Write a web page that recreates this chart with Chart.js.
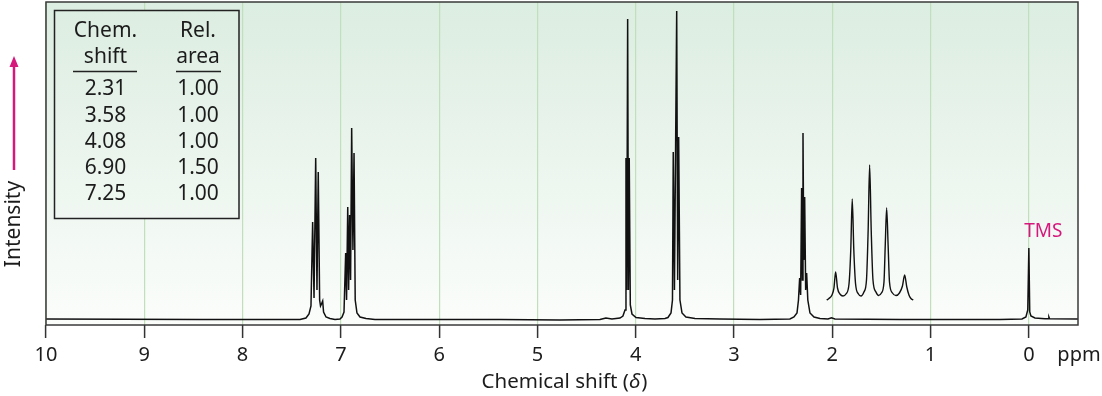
<!DOCTYPE html>
<html lang="en">
  <head>
    <meta charset="UTF-8" />
    <title>NMR spectrum</title>
    <script src="https://cdn.jsdelivr.net/npm/chart.js"></script>
    <style>
      body { margin: 0; background: #ffffff; }
      .chart-box { position: relative; width: 1102px; height: 396px; }
    </style>
  </head>
  <body>
    <div class="chart-box"><canvas id="nmrChart"></canvas></div>

    <script>
      // Axis ticks (ppm)
      var tickValues = [0, 1, 2, 3, 4, 5, 6, 7, 8, 9, 10];

      // Full spectrum (ppm / intensity)
      var spectrumPpm = [
        10.0, 8.433, 7.416, 7.355, 7.324, 7.304, 7.287, 7.273, 7.256, 7.243,
        7.23, 7.216, 7.207, 7.197, 7.185, 7.176, 7.151, 7.111, 7.06, 7.009,
        6.988, 6.968, 6.951, 6.942, 6.93, 6.921, 6.911, 6.901, 6.89, 6.877,
        6.866, 6.854, 6.836, 6.805, 6.744, 6.653, 6.398, 5.381, 4.771, 4.364,
        4.303, 4.242, 4.16, 4.13, 4.109, 4.099, 4.091, 4.082, 4.074, 4.066,
        4.055, 4.038, 3.997, 3.906, 3.804, 3.702, 3.672, 3.641, 3.626, 3.618,
        3.606, 3.583, 3.573, 3.563, 3.55, 3.529, 3.489, 3.397, 3.143, 2.736,
        2.431, 2.39, 2.359, 2.344, 2.332, 2.322, 2.312, 2.304, 2.298, 2.29,
        2.281, 2.271, 2.261, 2.249, 2.227, 2.186, 2.125, 2.044, 2.008, 1.973,
        1.311, 0.294, 0.07, 0.03, 0.011, 0.0, -0.009, -0.021, -0.062, -0.164,
        -0.199, -0.204, -0.211, -0.5
      ];
      var spectrumIntensity = [
        0, -0.5, -0.5, 1, 5, 13, 97, 21, 161, 29,
        147, 19, 13, 15, 18, 7, 2, 0.5, -0.5, 0,
        2, 7, 66, 19, 112, 29, 104, 39, 191, 69,
        166, 19, 6, 2, 0.5, -0.5, -0.5, -0.5, -1, -0.5,
        1, 0, 1, 3, 9, 161, 29, 300, 29, 161,
        14, 5, 1.5, 0.5, 0, 0.5, 1.5, 6, 19, 167,
        29, 308, 39, 182, 19, 6, 2, 0.5, 0, -0.5,
        0, 2, 6, 19, 41, 24, 131, 39, 186, 59,
        122, 29, 46, 19, 6, 2, 0.5, 0, 1.2, 0,
        -0.5, -0.5, 0, 2, 9, 71, 7, 3, 1, 0.3,
        0.2, 2, 0.2, 0
      ];

      // Expanded 1.2-2.0 ppm multiplet, drawn above the baseline
      var expansionPpm = [
        2.057, 2.034, 2.003, 1.983, 1.966, 1.947, 1.922, 1.891, 1.861, 1.83,
        1.812, 1.797, 1.781, 1.763, 1.734, 1.708, 1.678, 1.652, 1.635, 1.62,
        1.604, 1.586, 1.556, 1.53, 1.5, 1.474, 1.461, 1.447, 1.432, 1.418,
        1.388, 1.352, 1.317, 1.286, 1.264, 1.242, 1.22, 1.2, 1.176
      ];
      var expansionIntensity = [
        19, 20.5, 24, 31, 47, 31, 25, 23, 25, 35,
        69, 120, 69, 35, 25, 23, 27, 39, 89, 154,
        89, 39, 27, 23.5, 26, 37, 74, 111, 74, 37,
        26, 23.5, 26, 33, 44, 32, 24, 20.5, 19
      ];

      // Inset table
      var tableShifts = ["2.31", "3.58", "4.08", "6.90", "7.25"];
      var tableAreas = ["1.00", "1.00", "1.00", "1.50", "1.00"];

      var FONT = '"Noto Sans", sans-serif';
      var PINK = "#d6187d";
      var INK = "#1c1c1c";

      function toPoints(xs, ys) {
        return xs.map(function (x, i) {
          return { x: x, y: ys[i] };
        });
      }

      function makeGradient(ctx, area) {
        var g = ctx.createLinearGradient(0, area.top, 0, area.bottom);
        g.addColorStop(0, "#dcede1");
        g.addColorStop(1, "#fbfdfb");
        return g;
      }

      // green-tinted plot background
      var backgroundPlugin = {
        id: "plotBackground",
        beforeDraw: function (chart) {
          var ctx = chart.ctx;
          var a = chart.chartArea;
          ctx.save();
          ctx.fillStyle = makeGradient(ctx, a);
          ctx.fillRect(a.left, a.top, a.right - a.left, a.bottom - a.top);
          ctx.restore();
        },
      };

      // frame, labels, arrow and the inset table
      var overlayPlugin = {
        id: "overlay",
        afterDraw: function (chart) {
          var ctx = chart.ctx;
          var a = chart.chartArea;
          var xs = chart.scales.x;
          ctx.save();

          ctx.strokeStyle = "#3a3a3a";
          ctx.lineWidth = 1.5;
          ctx.strokeRect(a.left, a.top, a.right - a.left, a.bottom - a.top);

          // table
          var tx = 54.5, ty = 10.5, tw = 184.5, th = 208;
          ctx.fillStyle = makeGradient(ctx, a);
          ctx.fillRect(tx, ty, tw, th);
          ctx.strokeStyle = "#222";
          ctx.lineWidth = 1.5;
          ctx.strokeRect(tx, ty, tw, th);

          ctx.fillStyle = INK;
          ctx.font = "21px " + FONT;
          ctx.textAlign = "center";
          ctx.textBaseline = "middle";
          var c1 = 105.5, c2 = 198;
          ctx.fillText("Chem.", c1, 31);
          ctx.fillText("shift", c1, 57);
          ctx.fillText("Rel.", c2, 31);
          ctx.fillText("area", c2, 57);
          ctx.lineWidth = 1.5;
          ctx.beginPath();
          ctx.moveTo(73, 71.5);
          ctx.lineTo(137, 71.5);
          ctx.moveTo(176, 71.5);
          ctx.lineTo(221, 71.5);
          ctx.stroke();
          for (var i = 0; i < tableShifts.length; i++) {
            var ry = 89.5 + i * 26.2;
            ctx.fillText(tableShifts[i], c1, ry);
            ctx.fillText(tableAreas[i], c2, ry);
          }

          // ppm unit
          ctx.font = "20px " + FONT;
          ctx.fillText("ppm", 1079, 355);

          // x title with italic delta
          var t1 = "Chemical shift (";
          var t2 = "\u03B4";
          var t3 = ")";
          var fontUp = "20.5px " + FONT;
          var fontIt = "italic 20.5px " + FONT;
          ctx.font = fontUp;
          var w1 = ctx.measureText(t1).width;
          var w3 = ctx.measureText(t3).width;
          ctx.font = fontIt;
          var w2 = ctx.measureText(t2).width;
          var x0 = 564 - (w1 + w2 + w3) / 2;
          ctx.textAlign = "left";
          ctx.font = fontUp;
          ctx.fillText(t1, x0, 382);
          ctx.font = fontIt;
          ctx.fillText(t2, x0 + w1, 382);
          ctx.font = fontUp;
          ctx.fillText(t3, x0 + w1 + w2 + 1, 382);

          // y title and arrow
          ctx.save();
          ctx.translate(14, 224);
          ctx.rotate(-Math.PI / 2);
          ctx.textAlign = "center";
          ctx.font = "21px " + FONT;
          ctx.fillText("Intensity", 0, 0);
          ctx.restore();

          ctx.strokeStyle = PINK;
          ctx.fillStyle = PINK;
          ctx.lineWidth = 2.5;
          ctx.beginPath();
          ctx.moveTo(14, 170);
          ctx.lineTo(14, 64);
          ctx.stroke();
          ctx.beginPath();
          ctx.moveTo(14, 56);
          ctx.lineTo(9.5, 67);
          ctx.lineTo(18.5, 67);
          ctx.closePath();
          ctx.fill();

          // TMS reference label
          ctx.textAlign = "center";
          ctx.font = "19px " + FONT;
          ctx.fillText("TMS", xs.getPixelForValue(0) + 14.5, 232);

          ctx.restore();
        },
      };

      // Spectrum Chart
      var nmrCtx = document.getElementById("nmrChart").getContext("2d");
      var nmrChart = new Chart(nmrCtx, {
        type: "line",
        data: {
          datasets: [
            {
              label: "Spectrum",
              data: toPoints(spectrumPpm, spectrumIntensity),
              borderColor: "#111111",
              borderWidth: 1.5,
              pointRadius: 0,
              tension: 0,
            },
            {
              label: "Expansion",
              data: toPoints(expansionPpm, expansionIntensity),
              borderColor: "#111111",
              borderWidth: 1.4,
              pointRadius: 0,
              cubicInterpolationMode: "monotone",
            },
          ],
        },
        options: {
          responsive: true,
          maintainAspectRatio: false,
          animation: false,
          events: [],
          layout: { padding: { left: 46, right: 24, top: 2, bottom: 0 } },
          plugins: {
            legend: { display: false },
            tooltip: { enabled: false },
          },
          scales: {
            x: {
              type: "linear",
              reverse: true,
              min: -0.5,
              max: 10,
              afterBuildTicks: function (scale) {
                scale.ticks = tickValues.map(function (v) {
                  return { value: v };
                });
              },
              afterFit: function (scale) {
                scale.height = 71;
              },
              border: { display: false },
              grid: {
                color: "#c0dfbb",
                lineWidth: 1.2,
                tickColor: "#333333",
                tickLength: 13,
                tickWidth: 1.5,
              },
              ticks: {
                color: INK,
                font: { family: FONT, size: 20 },
                padding: 5,
                maxRotation: 0,
                autoSkip: false,
              },
            },
            y: {
              display: false,
              min: -6,
              max: 317,
            },
          },
        },
        plugins: [backgroundPlugin, overlayPlugin],
      });
    </script>
  </body>
</html>
